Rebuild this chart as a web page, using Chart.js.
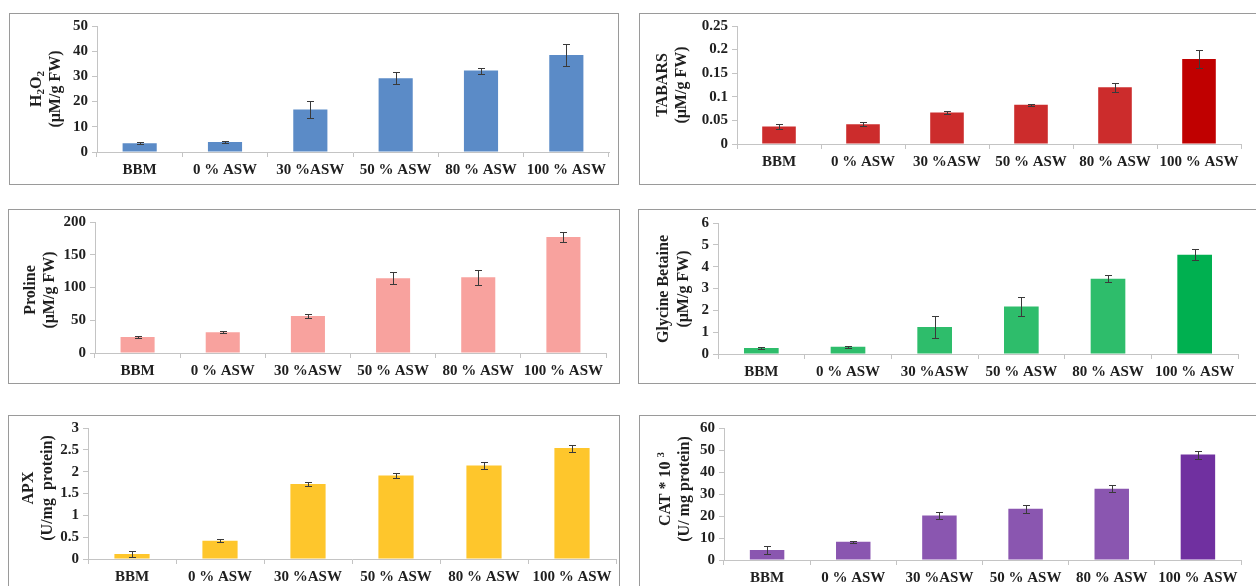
<!DOCTYPE html>
<html>
<head>
<meta charset="utf-8">
<script src="https://cdn.jsdelivr.net/npm/chart.js@4.4.1/dist/chart.umd.min.js"></script>
<style>
  html, body { margin: 0; padding: 0; background: #ffffff; overflow: hidden; }
  body { width: 1256px; height: 586px; position: relative; }
  .panel { position: absolute; box-sizing: border-box; border: 1px solid #9a9a9a; background: #ffffff; }
  .panel canvas { position: absolute; left: -1px; top: -1px; }
</style>
</head>
<body>
<div class="panel" id="p1"><canvas id="c1"></canvas></div>
<div class="panel" id="p2"><canvas id="c2"></canvas></div>
<div class="panel" id="p3"><canvas id="c3"></canvas></div>
<div class="panel" id="p4"><canvas id="c4"></canvas></div>
<div class="panel" id="p5"><canvas id="c5"></canvas></div>
<div class="panel" id="p6"><canvas id="c6"></canvas></div>
<script>
// Treatments (culture medium and artificial sea water strengths)
const categories = ['BBM', '0 % ASW', '30 %ASW', '50 % ASW', '80 % ASW', '100 % ASW'];

// Hydrogen peroxide (µM/g FW)
const h2o2Values = [3.5, 4.0, 16.9, 29.3, 32.3, 38.5];
const h2o2Errors = [0.5, 0.3, 3.4, 2.3, 1.2, 4.5];

// TBARS (µM/g FW)
const tbarsValues = [0.037, 0.042, 0.067, 0.083, 0.120, 0.180];
const tbarsErrors = [0.006, 0.004, 0.003, 0.002, 0.010, 0.020];

// Proline (µM/g FW)
const prolineValues = [24.5, 31.5, 56.5, 114, 115.5, 177];
const prolineErrors = [1.5, 1.5, 2.5, 9, 11, 7];

// Glycine betaine (µM/g FW)
const betaineValues = [0.27, 0.33, 1.24, 2.17, 3.45, 4.55];
const betaineErrors = [0.05, 0.04, 0.5, 0.42, 0.15, 0.26];

// Ascorbate peroxidase (U/mg protein)
const apxValues = [0.115, 0.42, 1.72, 1.91, 2.14, 2.54];
const apxErrors = [0.07, 0.03, 0.04, 0.06, 0.08, 0.08];

// Catalase x 10^3 (U/mg protein)
const catValues = [4.6, 8.3, 20.2, 23.3, 32.4, 47.9];
const catErrors = [1.9, 0.4, 1.7, 1.8, 1.7, 1.8];

const FONT = '"Liberation Serif", "Times New Roman", serif';
const INK = '#1f1f1f';
const AXIS = '#c4c4c4';

// Error bars: vertical whisker with caps, drawn from dataset.errors
const errorBars = {
  id: 'errorBars',
  afterDatasetsDraw(chart) {
    const ctx = chart.ctx;
    const y = chart.scales.y;
    chart.data.datasets.forEach((ds, di) => {
      const meta = chart.getDatasetMeta(di);
      meta.data.forEach((bar, i) => {
        const v = ds.data[i], e = ds.errors[i];
        const top = Math.round(y.getPixelForValue(v + e)) + 0.5;
        const bot = Math.round(y.getPixelForValue(v - e)) + 0.5;
        const x = Math.round(bar.x) + 0.5;
        ctx.save();
        ctx.strokeStyle = '#3a3a3a';
        ctx.lineWidth = 1;
        ctx.beginPath();
        ctx.moveTo(x, top); ctx.lineTo(x, bot);
        ctx.moveTo(x - 3.5, top); ctx.lineTo(x + 3.5, top);
        ctx.moveTo(x - 3.5, bot); ctx.lineTo(x + 3.5, bot);
        ctx.stroke();
        ctx.restore();
      });
    });
  }
};

// Rotated two-line axis title with sub/superscript runs
const axisTitle = {
  id: 'axisTitle',
  afterDraw(chart, args, opts) {
    const ctx = chart.ctx;
    const area = chart.chartArea;
    const cy = opts.cy != null ? opts.cy : (area.top + area.bottom) / 2;
    opts.lines.forEach((runs, li) => {
      const x = opts.xs[li];
      const parts = runs.map(r => {
        const small = r[1] === 'sub' || r[1] === 'sup';
        const size = small ? 11 : 16;
        ctx.font = 'bold ' + size + 'px ' + FONT;
        return { text: r[0], kind: r[1] || '', size, w: ctx.measureText(r[0]).width };
      });
      const total = parts.reduce((s, p) => s + p.w, 0);
      ctx.save();
      ctx.translate(x, cy);
      ctx.rotate(-Math.PI / 2);
      ctx.fillStyle = INK;
      ctx.textBaseline = 'middle';
      ctx.textAlign = 'left';
      let px = -total / 2;
      parts.forEach(p => {
        ctx.font = 'bold ' + p.size + 'px ' + FONT;
        const dy = p.kind === 'sub' ? 4 : p.kind === 'sup' ? -5 : 0;
        ctx.fillText(p.text, px, dy);
        px += p.w;
      });
      ctx.restore();
    });
  }
};

function fmt(v) { return String(+Number(v).toFixed(3)); }

function makePanel(cfg) {
  const div = document.getElementById(cfg.div);
  const [bl, bt, bw, bh] = cfg.box;
  Object.assign(div.style, { left: bl + 'px', top: bt + 'px', width: bw + 'px', height: bh + 'px' });
  const canvas = document.getElementById(cfg.canvas);
  canvas.width = bw; canvas.height = bh;
  canvas.style.width = bw + 'px'; canvas.style.height = bh + 'px';
  const L = cfg.plot[0] - bl, R = cfg.plot[1] - bl, T = cfg.plot[2] - bt, B = cfg.plot[3] - bt;
  new Chart(canvas, {
    type: 'bar',
    data: {
      labels: categories,
      datasets: [{
        data: cfg.values,
        errors: cfg.errors,
        backgroundColor: cfg.colors,
        borderWidth: 0,
        barPercentage: 0.4,
        categoryPercentage: 1.0
      }]
    },
    options: {
      responsive: false,
      animation: false,
      devicePixelRatio: 1,
      layout: { padding: { left: 0, top: T, right: bw - R, bottom: 0 } },
      plugins: {
        legend: { display: false },
        tooltip: { enabled: false },
        axisTitle: { lines: cfg.title, xs: cfg.titleX.map(v => v - bl), cy: cfg.titleY != null ? cfg.titleY - bt : null }
      },
      scales: {
        x: {
          grid: { display: true, drawOnChartArea: false, drawTicks: true, tickLength: 5, color: AXIS, offset: true },
          border: { display: true, color: AXIS, width: 1 },
          ticks: { color: INK, font: { family: FONT, size: 15, weight: 'bold' }, padding: 4, maxRotation: 0, autoSkip: false },
          afterFit(scale) { scale.height = bh - B; }
        },
        y: {
          min: 0, max: cfg.max,
          grid: { display: true, drawOnChartArea: false, drawTicks: true, tickLength: 5, color: AXIS },
          border: { display: true, color: AXIS, width: 1 },
          ticks: { stepSize: cfg.step, color: INK, font: { family: FONT, size: 15, weight: 'bold' }, padding: 4, callback: fmt },
          afterFit(scale) { scale.width = L; }
        }
      }
    },
    plugins: [errorBars, axisTitle]
  });
}

const RED = '#cc2c2c', GREEN = '#2ebd6b', PURPLE = '#8a56b0';

makePanel({
  div: 'p1', canvas: 'c1', box: [9, 13, 610, 172], plot: [97, 609, 23, 152],
  values: h2o2Values, errors: h2o2Errors, max: 50, step: 10,
  colors: '#5b8bc7',
  title: [[['H'], ['2', 'sub'], ['O'], ['2', 'sub']], [['(\u03bcM/g FW)']]], titleX: [37, 56]
});
makePanel({
  div: 'p2', canvas: 'c2', box: [639, 13, 630, 172], plot: [737, 1241, 24, 144],
  values: tbarsValues, errors: tbarsErrors, max: 0.25, step: 0.05,
  colors: [RED, RED, RED, RED, RED, '#c00000'],
  title: [[['TABARS']], [['(\u03bcM/g FW)']]], titleX: [663, 682]
});
makePanel({
  div: 'p3', canvas: 'c3', box: [8, 209, 612, 175], plot: [95, 606, 222, 353],
  values: prolineValues, errors: prolineErrors, max: 200, step: 50,
  colors: '#f8a29e',
  title: [[['Proline']], [['(\u03bcM/g FW)']]], titleX: [31, 50], titleY: 290
});
makePanel({
  div: 'p4', canvas: 'c4', box: [638, 209, 630, 175], plot: [718, 1238, 223, 354],
  values: betaineValues, errors: betaineErrors, max: 6, step: 1,
  colors: [GREEN, GREEN, GREEN, GREEN, GREEN, '#00b050'],
  title: [[['Glycine Betaine']], [['(\u03bcM/g FW)']]], titleX: [664, 684], titleY: 289
});
makePanel({
  div: 'p5', canvas: 'c5', box: [8, 415, 612, 185], plot: [88, 616, 428, 559],
  values: apxValues, errors: apxErrors, max: 3, step: 0.5,
  colors: '#fec62c',
  title: [[['APX']], [['(U/mg  protein)']]], titleX: [29, 48], titleY: 488
});
makePanel({
  div: 'p6', canvas: 'c6', box: [639, 415, 630, 185], plot: [724, 1241, 428, 560],
  values: catValues, errors: catErrors, max: 60, step: 10,
  colors: [PURPLE, PURPLE, PURPLE, PURPLE, PURPLE, '#7030a0'],
  title: [[['CAT * 10 '], ['3', 'sup']], [['(U/ mg protein)']]], titleX: [666, 685], titleY: 489
});
</script>
</body>
</html>
